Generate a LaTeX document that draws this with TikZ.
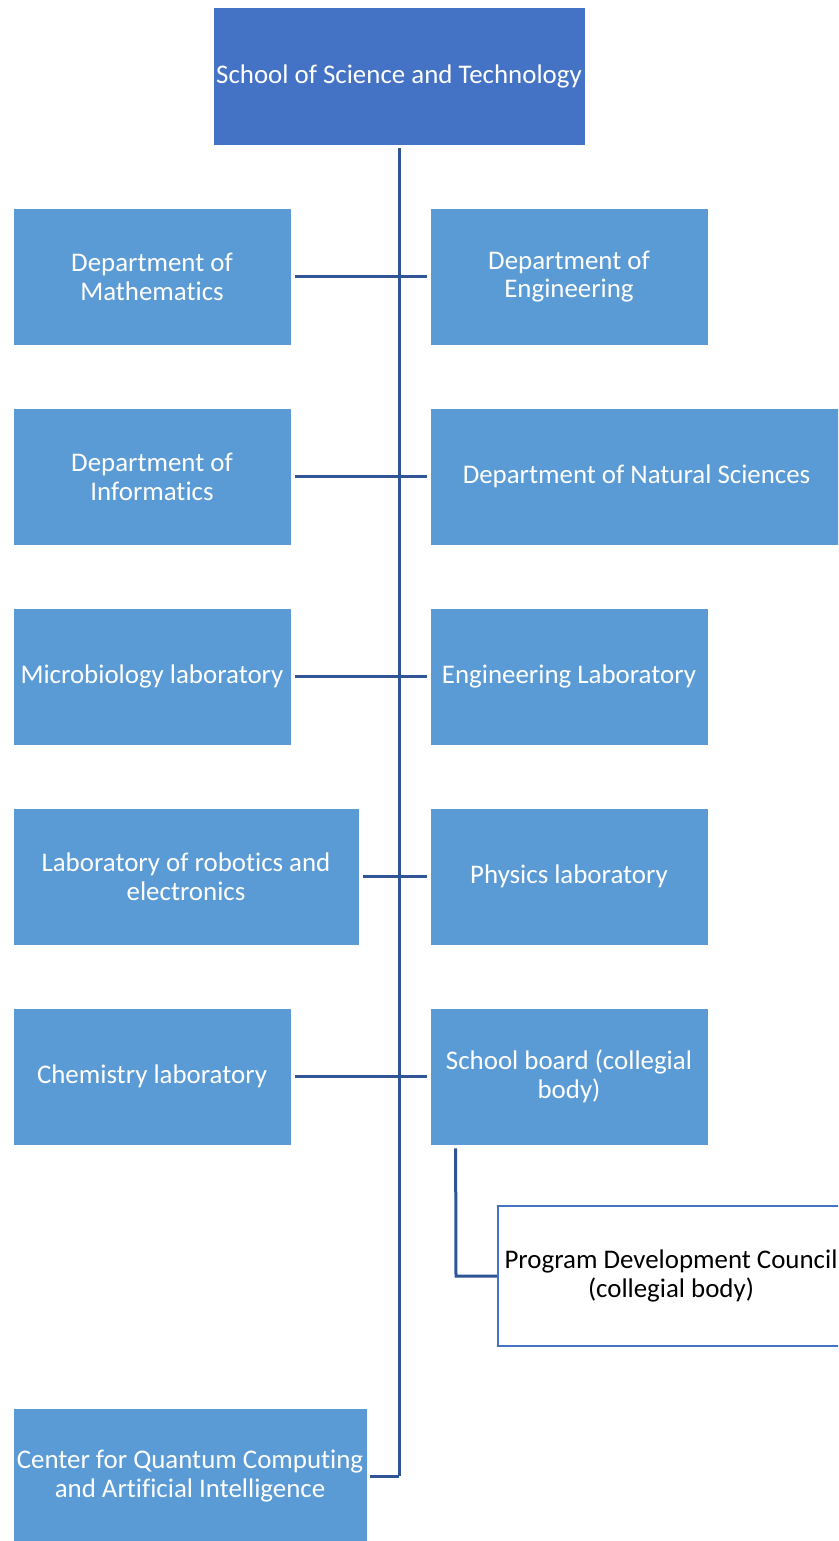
\documentclass[tikz,border=0pt]{standalone}
\usepackage{fontspec}
\setmainfont{Carlito}[Ligatures=NoCommon,RawFeature=-liga]
\definecolor{topblue}{HTML}{4472C4}
\definecolor{boxblue}{HTML}{5B9BD5}
\definecolor{linkblue}{HTML}{2F5597}
\begin{document}
\begin{tikzpicture}[x=1pt,y=-1pt,
  box/.style={draw=white,line width=0.8pt,fill=boxblue,text=white,align=center,inner sep=0pt,font=\fontsize{26.9}{28.8}\selectfont},
  topbox/.style={box,fill=topblue},
  wbox/.style={draw=topblue,line width=2.5pt,fill=white,text=black,align=center,inner sep=0pt,font=\fontsize{26.9}{28.8}\selectfont},
  conn/.style={draw=linkblue,line width=3pt}]
\useasboundingbox (0,0) rectangle (838,1541);
\clip (0,0) rectangle (838,1541);
\fill[white] (0,0) rectangle (838,1541);
\node[topbox,minimum width=372,minimum height=138] (top) at (399,76) {School of Science and Technology};
% left column
\node[box,minimum width=278,minimum height=137] (math) at (152,276.5) {Department of\\Mathematics};
\node[box,minimum width=278,minimum height=137] (inf) at (152,476.5) {Department of\\Informatics};
\node[box,minimum width=278,minimum height=137] (micro) at (152,676.5) {Microbiology laboratory};
\node[box,minimum width=346,minimum height=137] (robo) at (186,876.5) {Laboratory of robotics and\\electronics};
\node[box,minimum width=278,minimum height=137] (chem) at (152,1076.5) {Chemistry laboratory};
\node[box,minimum width=354,minimum height=136] (quant) at (190,1476) {Center for Quantum Computing\\and Artificial Intelligence};
% right column
\node[box,minimum width=278,minimum height=137] (eng) at (569,276.5) {Department of\\Engineering};
\node[box,minimum width=413,minimum height=137] (nat) at (636.5,476.5) {Department of Natural Sciences};
\node[box,minimum width=278,minimum height=137] (englab) at (569,676.5) {Engineering Laboratory};
\node[box,minimum width=278,minimum height=137] (phys) at (569,876.5) {Physics laboratory};
\node[box,minimum width=278,minimum height=137] (board) at (569,1076.5) {School board (collegial\\body)};
\node[wbox,minimum width=346,minimum height=140] (pdc) at (671,1276) {Program Development Council\\(collegial body)};
% connectors
\coordinate (spineend) at (399,1476);
\draw[conn,shorten <=3pt] (top.south) -- (spineend);
\draw[conn,shorten >=3pt] (spineend) -- (quant.east);
\draw[conn,shorten <=4pt,shorten >=3pt] (math.east) -- (eng.west);
\draw[conn,shorten <=4pt,shorten >=3pt] (inf.east) -- (nat.west);
\draw[conn,shorten <=4pt,shorten >=3pt] (micro.east) -- (englab.west);
\draw[conn,shorten <=4pt,shorten >=3pt] (robo.east) -- (phys.west);
\draw[conn,shorten <=4pt,shorten >=3pt] (chem.east) -- (board.west);
\coordinate (pcorner) at (456,1276);
\draw[conn,shorten <=3pt] ([xshift=26pt]board.south west) -- (pcorner) -- (pdc.west);
\end{tikzpicture}
\end{document}
